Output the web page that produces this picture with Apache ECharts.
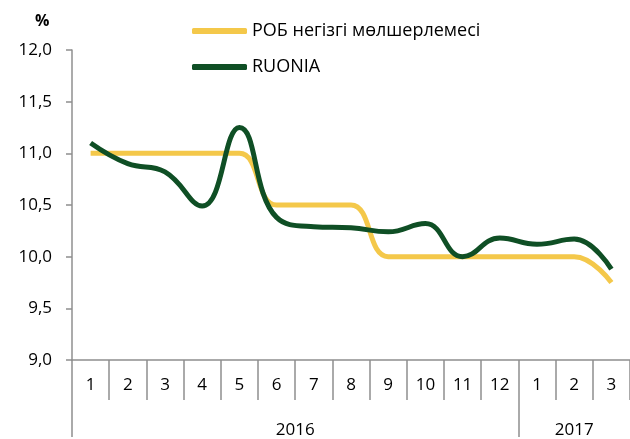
<!DOCTYPE html>
<html>
<head>
<meta charset="utf-8">
<script src="https://cdn.jsdelivr.net/npm/echarts@6/dist/echarts.min.js"></script>
<style>
  html, body { margin: 0; padding: 0; background: #fff; }
  #chart { width: 630px; height: 439px; }
</style>
</head>
<body>
<div id="chart"></div>
<script>
// months on the axis (2016: 1..12, 2017: 1..3)
const months = ['1', '2', '3', '4', '5', '6', '7', '8', '9', '10', '11', '12', '1', '2', '3'];
const years = ['2016', '2017'];
const yearStart = [0, 12];
const yearEnd = [12, 15];

const keyRate = [11.0, 11.0, 11.0, 11.0, 11.0, 10.5, 10.5, 10.5, 10.0, 10.0, 10.0, 10.0, 10.0, 10.0, 9.75];
const ruonia = [11.1, 10.9, 10.82, 10.49, 11.25, 10.38, 10.29, 10.28, 10.24, 10.32, 10.0, 10.18, 10.12, 10.17, 9.88];

const seriesNames = ['РОБ негізгі мөлшерлемесі', 'RUONIA'];

const font = '"Open Sans", sans-serif';
const axisGrey = '#8f8f8f';

const chart = echarts.init(document.getElementById('chart'));

// middle of each year span, used for the year labels
const yearMid = years.map((y, i) => (yearStart[i] + yearEnd[i]) / 2);

const option = {
    animation: false,
    textStyle: { fontFamily: font },
    title: {
        text: '%',
        left: 30,
        top: 8,
        textStyle: { fontFamily: font, fontSize: 16, fontWeight: 'bold', color: '#000' }
    },
    legend: {
        orient: 'vertical',
        left: 187,
        top: 16,
        itemWidth: 55,
        itemHeight: 6,
        itemGap: 16,
        icon: 'roundRect',
        data: seriesNames,
        textStyle: { fontFamily: font, fontSize: 18, color: '#000', lineHeight: 20 }
    },
    grid: { left: 72, right: -7, top: 50, bottom: 77 },
    xAxis: [
        {
            type: 'category',
            data: months,
            boundaryGap: true,
            axisLine: { lineStyle: { color: axisGrey, width: 1.5 } },
            axisTick: { show: true, interval: 0, length: 40, lineStyle: { color: axisGrey, width: 1.5 } },
            axisLabel: { interval: 0, margin: 17, fontSize: 17, color: '#000', fontFamily: font }
        },
        {
            type: 'value',
            position: 'bottom',
            min: 0,
            max: months.length,
            axisLine: { show: false },
            splitLine: { show: false },
            axisTick: {
                show: true,
                customValues: [0].concat(yearStart.slice(1)),
                length: 77,
                lineStyle: { color: axisGrey, width: 1.5 }
            },
            axisLabel: {
                customValues: yearMid,
                margin: 62,
                fontSize: 17,
                color: '#000',
                fontFamily: font,
                formatter: v => years[yearMid.indexOf(v)] || ''
            }
        }
    ],
    yAxis: {
        type: 'value',
        min: 9,
        max: 12,
        interval: 0.5,
        splitLine: { show: false },
        axisLine: { show: true, lineStyle: { color: axisGrey, width: 1.5 } },
        axisTick: { show: true, length: 6, lineStyle: { color: axisGrey, width: 1.5 } },
        axisLabel: {
            margin: 20,
            fontSize: 17,
            color: '#000',
            fontFamily: font,
            formatter: v => v.toFixed(1).replace('.', ',')
        }
    },
    series: [
        {
            name: seriesNames[0],
            type: 'line',
            data: keyRate,
            smooth: 0.45,
            symbol: 'none',
            itemStyle: { color: '#F4C84A' },
            lineStyle: { color: '#F4C84A', width: 5 }
        },
        {
            name: seriesNames[1],
            type: 'line',
            data: ruonia,
            smooth: 0.45,
            symbol: 'none',
            itemStyle: { color: '#0F4F25' },
            lineStyle: { color: '#0F4F25', width: 5 }
        }
    ]
};

chart.setOption(option);
</script>
</body>
</html>
